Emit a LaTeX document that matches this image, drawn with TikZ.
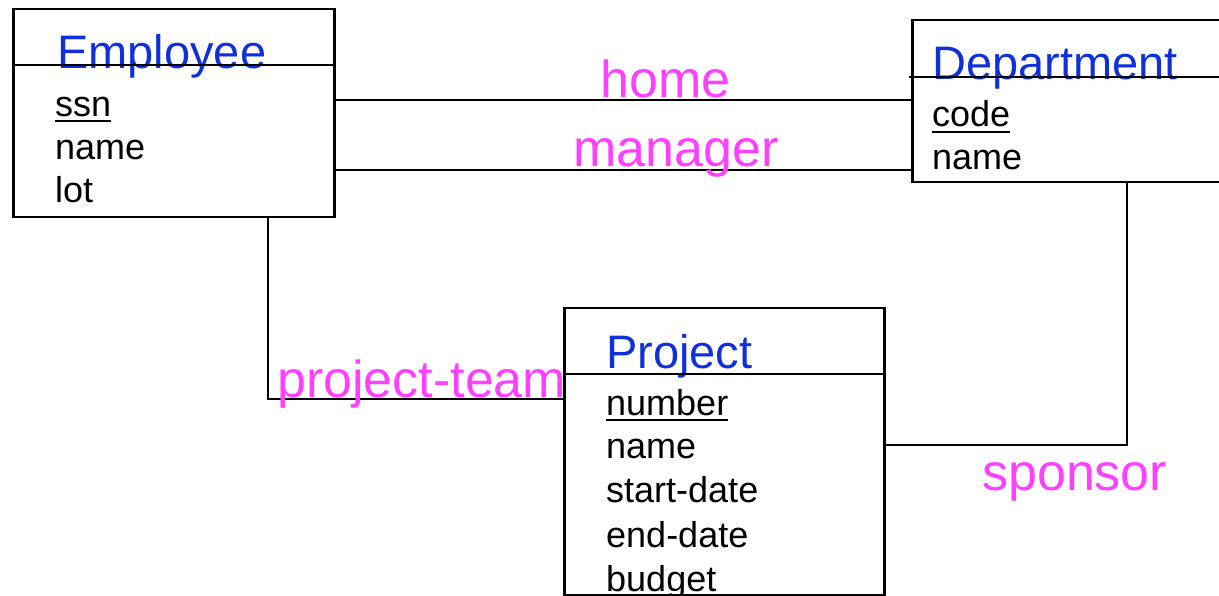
\documentclass[tikz,border=0pt]{standalone}
\usepackage{fontspec}
\setmainfont{Liberation Sans}
\definecolor{entblue}{RGB}{16,48,220}
\definecolor{relpink}{RGB}{255,64,255}
\begin{document}
\begin{tikzpicture}[x=1pt,y=-1pt,
  entbox/.style={draw,line width=2.5pt,anchor=north west,inner sep=0pt},
  title/.style={anchor=base west,inner sep=0pt,text=entblue,font=\fontsize{47}{47}\selectfont},
  attr/.style={anchor=base west,inner sep=0pt,text=black,font=\fontsize{36}{36}\selectfont},
  rel/.style={anchor=base west,inner sep=0pt,text=relpink,font=\fontsize{52}{52}\selectfont},
  conn/.style={line width=2.3pt},
  uline/.style={line width=2pt}]
\useasboundingbox (0,0) rectangle (1219,596);
% boxes
\node[entbox,minimum width=321pt,minimum height=208pt] (emp) at (12,8) {};
\node[entbox,minimum width=330pt,minimum height=162pt] (dept) at (911,19) {};
\node[entbox,minimum width=320pt,minimum height=287pt] (proj) at (563,307) {};
% titles
\node[title] (empT) at (57,69) {Employee};
\node[title] (deptT) at (932,80) {Department};
\node[title] (projT) at (606,368) {Project};
% header lines
\draw[conn] (emp.west |- 0,65) -- (335,65);
\draw[conn] (909,77) -- (dept.east |- 0,77);
\draw[conn] (proj.west |- 0,374) -- (885,374);
% attributes
\node[attr] (essn) at (55,117) {ssn};
\node[attr] (ename) at (55,160) {name};
\node[attr] (elot) at (55,203) {lot};
\node[attr] (dcode) at (932,127) {code};
\node[attr] (dname) at (932,170) {name};
\node[attr] (pnum) at (606,415) {number};
\node[attr] (pname) at (606,458) {name};
\node[attr] (pstart) at (606,502) {start-date};
\node[attr] (pend) at (606,547) {end-date};
\node[attr] (pbud) at (606,591) {budget};
% underlines
\draw[uline] ([yshift=-4.5pt]essn.base west) -- ([yshift=-4.5pt]essn.base east);
\draw[uline] ([yshift=-5pt]dcode.base west) -- ([yshift=-5pt]dcode.base east);
\draw[uline] ([yshift=-5pt]pnum.base west) -- ([yshift=-5pt]pnum.base east);
% connectors
\coordinate (h1) at (335,100);
\coordinate (m1) at (335,170);
\draw[conn] (h1) -- (dept.west |- h1);
\draw[conn] (m1) -- (dept.west |- m1);
\draw[conn] (emp.south -| 268,0) |- (proj.west |- 0,399);
\draw[conn] (dept.south -| 1127,0) |- (885,445);
% relationship labels
\node[rel] (home) at (600,98) {home};
\node[rel] (manager) at (573,167) {manager};
\node[rel] (pteam) at (277,397) {project-team};
\node[rel] (sponsor) at (982,490) {sponsor};
\end{tikzpicture}
\end{document}
